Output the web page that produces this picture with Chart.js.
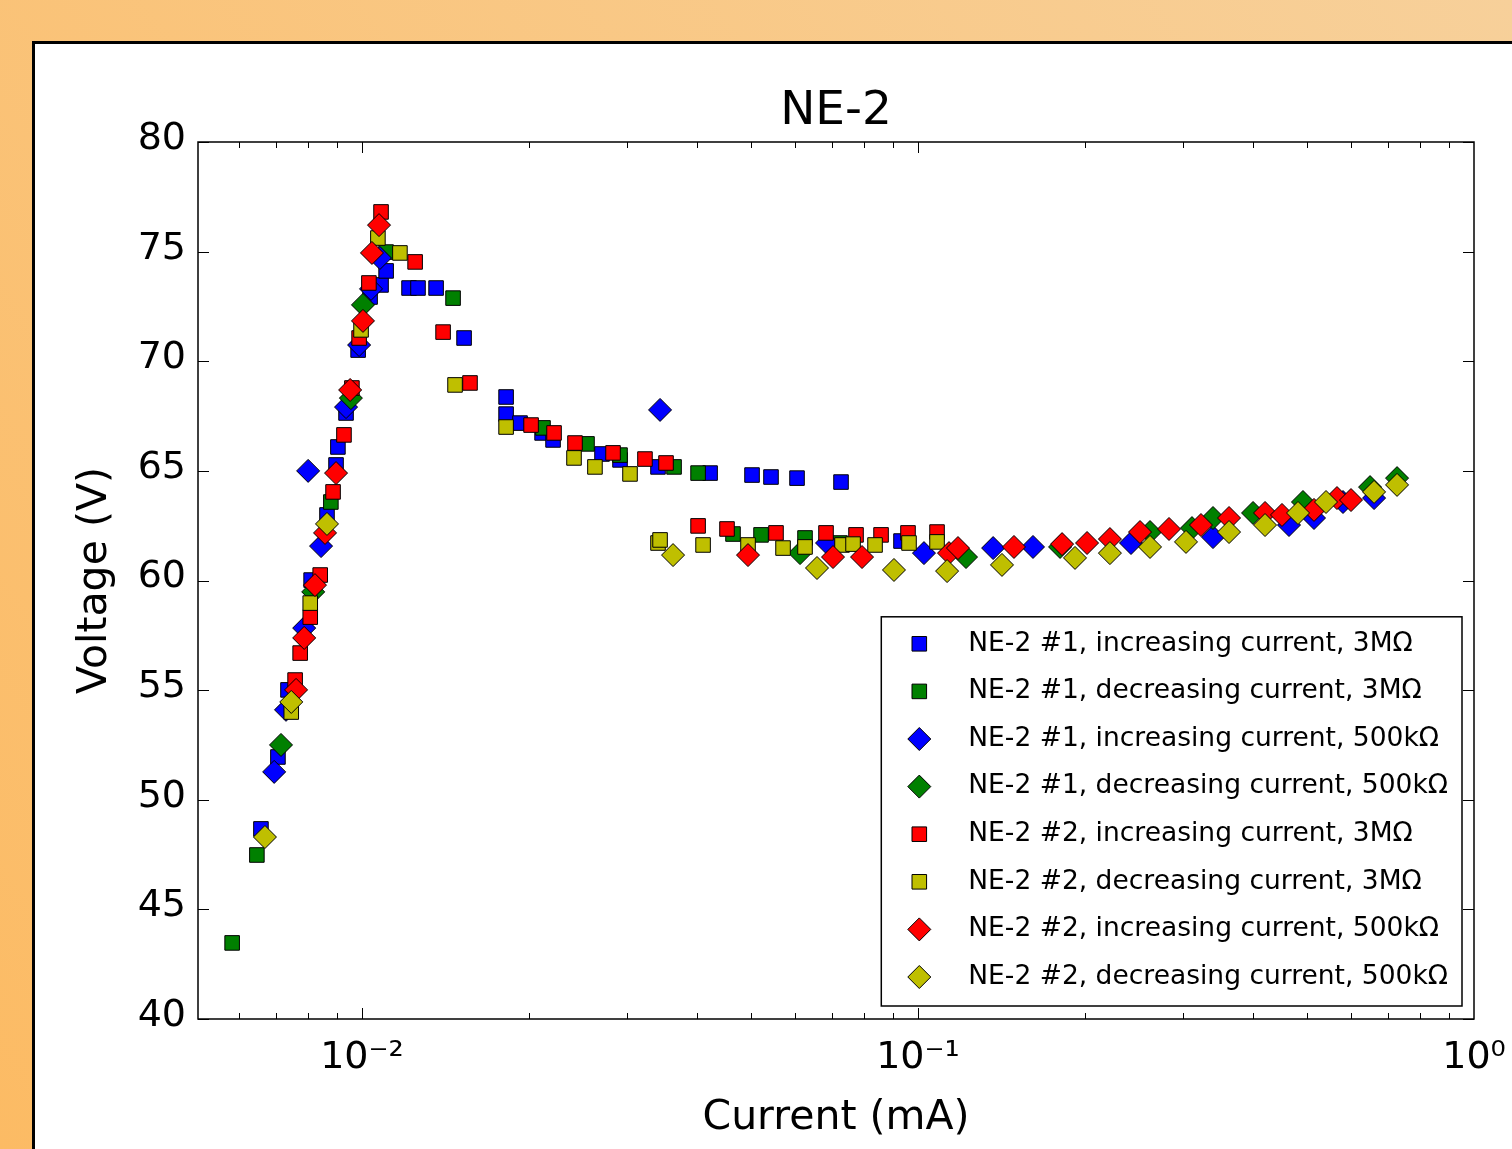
<!DOCTYPE html>
<html>
<head>
<meta charset="utf-8">
<title>NE-2</title>
<script src="https://cdn.jsdelivr.net/npm/chart.js@4.4.1/dist/chart.umd.min.js"></script>
<style>
  html, body { margin: 0; padding: 0; overflow: hidden; background: #f8cb8e; }
  #graficoNE2 { display: block; }
</style>
</head>
<body>
<canvas id="graficoNE2" width="1512" height="1149"></canvas>
<script>
// NE-2 neon lamp: voltage vs current, two lamps, two series resistors
const legendLabels = [
    'NE-2 #1, increasing current, 3MΩ',
    'NE-2 #1, decreasing current, 3MΩ',
    'NE-2 #1, increasing current, 500kΩ',
    'NE-2 #1, decreasing current, 500kΩ',
    'NE-2 #2, increasing current, 3MΩ',
    'NE-2 #2, decreasing current, 3MΩ',
    'NE-2 #2, increasing current, 500kΩ',
    'NE-2 #2, decreasing current, 500kΩ'
];

// current in mA, voltage in V
const ne1Inc3mCurrent = [0.00658, 0.00706, 0.00736, 0.00810, 0.00865, 0.00898, 0.00905, 0.00936, 0.00984, 0.01034,
    0.01082, 0.01105, 0.01215, 0.01261, 0.01359, 0.01526, 0.01816, 0.01816, 0.01924, 0.02108,
    0.02206, 0.02702, 0.02911, 0.03407, 0.04227, 0.05029, 0.05440, 0.06059, 0.07270, 0.09320];
const ne1Inc3mVoltage = [48.67, 51.95, 55.01, 60.02, 62.99, 65.27, 66.09, 67.64, 70.51, 72.93,
    73.48, 74.12, 73.34, 73.34, 73.34, 71.06, 68.37, 67.59, 67.18, 66.73,
    66.41, 65.77, 65.50, 65.18, 64.90, 64.81, 64.72, 64.67, 64.49, 61.80];

const ne1Dec3mCurrent = [0.00584, 0.00647, 0.00879, 0.01105, 0.01458, 0.02116, 0.02539, 0.02911, 0.03641, 0.04022,
    0.04648, 0.05220, 0.06263, 0.07240];
const ne1Dec3mVoltage = [43.47, 47.48, 63.58, 74.98, 72.88, 66.96, 66.23, 65.72, 65.18, 64.90,
    62.12, 62.08, 61.94, 61.71];

const ne1Inc500kCurrent = [0.00695, 0.00730, 0.00787, 0.00800, 0.00844, 0.00936, 0.00988, 0.01038, 0.01077, 0.03436,
    0.06861, 0.1025, 0.1365, 0.1610, 0.2416, 0.3393, 0.4648, 0.5155, 0.5813, 0.6611];
const ne1Inc500kVoltage = [51.27, 54.10, 57.83, 65.00, 61.57, 67.91, 70.74, 73.30, 74.71, 67.78,
    61.71, 61.25, 61.48, 61.53, 61.71, 61.98, 62.53, 62.85, 63.58, 63.76];

const ne1Dec500kCurrent = [0.00715, 0.00817, 0.00955, 0.01004, 0.06135, 0.1220, 0.1801, 0.2614, 0.3110, 0.3393,
    0.4005, 0.4925, 0.6502, 0.7271];
const ne1Dec500kVoltage = [52.50, 59.48, 68.32, 72.57, 61.25, 61.07, 61.53, 62.21, 62.39, 62.85,
    63.08, 63.58, 64.26, 64.67];

const ne2Inc3mCurrent = [0.00758, 0.00774, 0.00807, 0.00841, 0.00887, 0.00928, 0.00959, 0.00988, 0.01029, 0.01082,
    0.01246, 0.01399, 0.01564, 0.02014, 0.02215, 0.02416, 0.02828, 0.03228, 0.03522, 0.04022,
    0.04534, 0.05554, 0.06832, 0.07736, 0.08581, 0.09594, 0.1082];
const ne2Inc3mVoltage = [55.46, 56.69, 58.33, 60.25, 64.04, 66.64, 68.78, 71.06, 73.57, 76.81,
    74.53, 71.33, 69.01, 67.09, 66.73, 66.27, 65.82, 65.54, 65.36, 62.49,
    62.35, 62.17, 62.17, 62.08, 62.08, 62.17, 62.21];

const ne2Dec3mCurrent = [0.00746, 0.00807, 0.00996, 0.01068, 0.01170, 0.01470, 0.01816, 0.02406, 0.02624, 0.03034,
    0.03407, 0.03436, 0.04106, 0.04946, 0.05718, 0.06263, 0.07300, 0.07641, 0.08370, 0.09634, 0.1082];
const ne2Dec3mVoltage = [54.00, 58.97, 71.43, 75.62, 74.94, 68.92, 67.00, 65.59, 65.18, 64.86,
    61.71, 61.85, 61.62, 61.62, 61.48, 61.53, 61.62, 61.66, 61.62, 61.71, 61.76];

const ne2Inc500kCurrent = [0.00761, 0.00787, 0.00823, 0.00858, 0.00898, 0.00952, 0.01004, 0.01042, 0.01073, 0.04946,
    0.07033, 0.07931, 0.1137, 0.1180, 0.1488, 0.1816, 0.2014, 0.2214, 0.2508, 0.2828,
    0.3228, 0.3626, 0.4209, 0.4515, 0.5155, 0.5670, 0.6009];
const ne2Inc500kVoltage = [55.01, 57.38, 59.79, 62.17, 64.90, 68.69, 71.84, 74.94, 76.21, 61.16,
    61.07, 61.07, 61.25, 61.48, 61.53, 61.66, 61.71, 61.89, 62.21, 62.35,
    62.53, 62.85, 63.08, 62.99, 63.22, 63.76, 63.67];

const ne2Dec500kCurrent = [0.00669, 0.00746, 0.00865, 0.03626, 0.06582, 0.09053, 0.1128, 0.1416, 0.1916, 0.2214,
    0.2614, 0.3034, 0.3626, 0.4209, 0.4825, 0.5418, 0.6611, 0.7271];
const ne2Dec500kVoltage = [48.30, 54.46, 62.58, 61.16, 60.57, 60.48, 60.43, 60.71, 61.03, 61.25,
    61.53, 61.76, 62.21, 62.53, 63.08, 63.58, 64.04, 64.36];

const xTickValues = [0.01, 0.1, 1];
const xTickLabels = ['10⁻²', '10⁻¹', '10⁰'];
const yTickValues = [40, 45, 50, 55, 60, 65, 70, 75, 80];
const xMin = 0.00507, xMax = 1;

const seriesCurrent = [ne1Inc3mCurrent, ne1Dec3mCurrent, ne1Inc500kCurrent, ne1Dec500kCurrent,
    ne2Inc3mCurrent, ne2Dec3mCurrent, ne2Inc500kCurrent, ne2Dec500kCurrent];
const seriesVoltage = [ne1Inc3mVoltage, ne1Dec3mVoltage, ne1Inc500kVoltage, ne1Dec500kVoltage,
    ne2Inc3mVoltage, ne2Dec3mVoltage, ne2Inc500kVoltage, ne2Dec500kVoltage];

// estilos
const colores = ['#0000ff', '#008000', '#0000ff', '#008000', '#ff0000', '#bfbf00', '#ff0000', '#bfbf00'];
const formas = ['rect', 'rect', 'rectRot', 'rectRot', 'rect', 'rect', 'rectRot', 'rectRot'];

Chart.defaults.font.family = "'DejaVu Sans', sans-serif";
Chart.defaults.color = '#000';

const datasets = legendLabels.map((label, i) => ({
    label: label,
    data: seriesCurrent[i].map((c, k) => ({x: c, y: seriesVoltage[i][k]})),
    pointStyle: formas[i],
    pointRadius: formas[i] === 'rect' ? 10.3 : 11.5,
    backgroundColor: colores[i],
    borderColor: '#000',
    borderWidth: 1,
    order: legendLabels.length - i
}));

// fondo naranja + panel blanco
const fondo = {
    id: 'fondo',
    beforeDraw(chart) {
        const c = chart.ctx;
        const g = c.createLinearGradient(chart.width, 0, 0, chart.height);
        g.addColorStop(0, '#f7d09a');
        g.addColorStop(1, '#fcbb64');
        c.save();
        c.fillStyle = g;
        c.fillRect(0, 0, chart.width, chart.height);
        c.fillStyle = '#fff';
        c.fillRect(33, 42, chart.width, chart.height);
        c.strokeStyle = '#000';
        c.lineWidth = 3;
        c.strokeRect(33.5, 42.5, chart.width + 20, chart.height + 20);
        c.restore();
    }
};

// marco y marcas hacia dentro
const marco = {
    id: 'marco',
    afterDraw(chart) {
        const {ctx, chartArea: a, scales: {x, y}} = chart;
        ctx.save();
        ctx.strokeStyle = '#000';
        ctx.lineWidth = 1;
        ctx.beginPath();
        x.ticks.forEach(t => {
            const v = t.value;
            const e = Math.floor(Math.log10(v) + 1e-9);
            const m = v / Math.pow(10, e);
            if (Math.abs(m - Math.round(m)) > 1e-6) return;
            const px = Math.round(x.getPixelForValue(v)) + 0.5;
            if (px < a.left + 2 || px > a.right - 2) return;
            const len = Math.round(m) === 1 ? 11 : 6;
            ctx.moveTo(px, a.bottom); ctx.lineTo(px, a.bottom - len);
            ctx.moveTo(px, a.top); ctx.lineTo(px, a.top + len);
        });
        y.ticks.forEach(t => {
            const py = Math.round(y.getPixelForValue(t.value)) + 0.5;
            ctx.moveTo(a.left, py); ctx.lineTo(a.left + 11, py);
            ctx.moveTo(a.right, py); ctx.lineTo(a.right - 11, py);
        });
        ctx.stroke();
        ctx.lineWidth = 1.5;
        ctx.strokeRect(a.left, a.top, a.right - a.left, a.bottom - a.top);
        ctx.restore();
    }
};

// leyenda con caja, abajo a la derecha
const leyenda = {
    id: 'leyenda',
    afterDraw(chart) {
        const {ctx, chartArea: a} = chart;
        const rows = chart.data.datasets;
        ctx.save();
        ctx.font = "26.5px 'DejaVu Sans'";
        const textW = Math.max(...rows.map(d => ctx.measureText(d.label).width));
        const rowH = 47.6;
        const w = 87 + textW + 14;
        const h = 27 + rowH * (rows.length - 1) + 29;
        const right = a.right - 12, bottom = a.bottom - 13;
        const left = right - w, top = bottom - h;
        ctx.fillStyle = '#fff';
        ctx.fillRect(left, top, w, h);
        ctx.lineWidth = 1.5;
        ctx.strokeStyle = '#000';
        ctx.strokeRect(left, top, w, h);
        rows.forEach((d, i) => {
            const cy = top + 27 + i * rowH;
            ctx.fillStyle = d.backgroundColor;
            ctx.strokeStyle = '#000';
            ctx.lineWidth = 1;
            Chart.helpers.drawPoint(ctx, {pointStyle: d.pointStyle, radius: d.pointRadius, borderWidth: 1, rotation: 0}, left + 38, cy);
            ctx.fillStyle = '#000';
            ctx.textBaseline = 'middle';
            ctx.textAlign = 'left';
            ctx.fillText(d.label, left + 87, cy);
        });
        ctx.restore();
    }
};

const ctx = document.getElementById('graficoNE2').getContext('2d');
const grafico = new Chart(ctx, {
    type: 'scatter',
    data: {datasets: datasets},
    options: {
        responsive: false,
        animation: false,
        events: [],
        layout: {padding: {left: 0, right: 38, top: 81.6, bottom: 0}},
        plugins: {
            legend: {display: false},
            tooltip: {enabled: false},
            title: {
                display: true,
                text: 'NE-2',
                fullSize: false,
                font: {size: 47, weight: 'normal'},
                color: '#000',
                padding: {top: 2, bottom: 2}
            }
        },
        scales: {
            x: {
                type: 'logarithmic',
                min: xMin,
                max: xMax,
                afterFit(s) {
                    s.height = 130;
                    s.paddingLeft = 0;
                    s.paddingRight = 0;
                },
                grid: {display: false, drawTicks: false},
                border: {display: false},
                ticks: {
                    autoSkip: false,
                    maxRotation: 0,
                    padding: 16,
                    font: {size: 38},
                    color: '#000',
                    callback(v) {
                        const i = xTickValues.findIndex(t => Math.abs(t - v) / t < 1e-6);
                        return i >= 0 ? xTickLabels[i] : '';
                    }
                },
                title: {
                    display: true,
                    text: 'Current (mA)',
                    font: {size: 41},
                    color: '#000',
                    padding: {top: 0, bottom: 6}
                }
            },
            y: {
                min: 40,
                max: 80,
                afterBuildTicks(s) { s.ticks = yTickValues.map(v => ({value: v})); },
                afterFit(s) { s.width = 198; },
                grid: {display: false, drawTicks: false},
                border: {display: false},
                ticks: {padding: 12, labelOffset: -3, font: {size: 38}, color: '#000'},
                title: {
                    display: true,
                    text: 'Voltage (V)',
                    font: {size: 41},
                    color: '#000',
                    padding: {top: 71, bottom: 0}
                }
            }
        }
    },
    plugins: [fondo, marco, leyenda]
});
</script>
</body>
</html>
